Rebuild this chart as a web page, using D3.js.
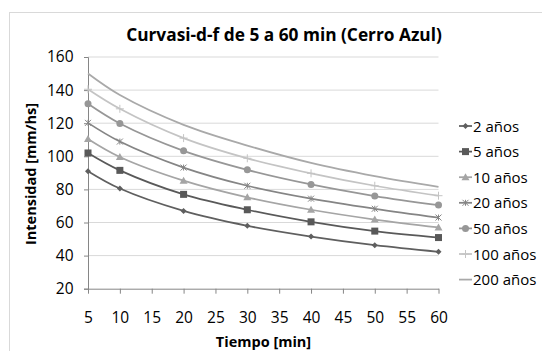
<!DOCTYPE html>
<html>
<head>
<meta charset="utf-8">
<script src="https://cdn.jsdelivr.net/npm/d3@7"></script>
<style>
  body { margin: 0; background: #fff; }
  svg { display: block; font-family: "Open Sans", sans-serif; }
</style>
</head>
<body>
<div id="chart"></div>
<script>
// duration (min) at each point
const tiempos = [5, 10, 20, 30, 40, 50, 60];
const xTicks = [5, 10, 15, 20, 25, 30, 35, 40, 45, 50, 55, 60];
const yTicks = [20, 40, 60, 80, 100, 120, 140, 160];

// intensity per return period
const serie2 = [91, 80.5, 67, 58, 51.5, 46.3, 42.3];
const serie5 = [102, 91.5, 77, 67.7, 60.4, 54.8, 50.9];
const serie10 = [110.5, 99.6, 85.3, 75.2, 67.7, 61.8, 57];
const serie20 = [120.2, 108.9, 93.2, 82.2, 74.4, 68.3, 63];
const serie50 = [131.7, 119.8, 103.3, 91.8, 83, 76, 70.5];
const serie100 = [140.5, 128.7, 111, 98.8, 89.7, 82.2, 76.2];
const serie200 = [150, 137, 119, 106.5, 96, 88, 81.5];

const series = [
    { name: "2 años", values: serie2, color: "#5f5f5f", marker: "diamond" },
    { name: "5 años", values: serie5, color: "#595959", marker: "square" },
    { name: "10 años", values: serie10, color: "#a5a5a5", marker: "triangle" },
    { name: "20 años", values: serie20, color: "#858585", marker: "cross" },
    { name: "50 años", values: serie50, color: "#979797", marker: "circle" },
    { name: "100 años", values: serie100, color: "#c4c4c4", marker: "plus" },
    { name: "200 años", values: serie200, color: "#a9a9a9", marker: "none" }
];

const W = 542, H = 351;
const plot = { left: 88, right: 438.5, top: 57, bottom: 288.7 };

const svg = d3.select("#chart").append("svg")
    .attr("width", W)
    .attr("height", H);

// chart border
svg.append("rect")
    .attr("x", 9.5).attr("y", 12.5)
    .attr("width", W).attr("height", H)
    .attr("fill", "none")
    .attr("stroke", "#d9d9d9");

const x = d3.scaleLinear().domain([5, 60]).range([plot.left, plot.right]);
const y = d3.scaleLinear().domain([20, 160]).range([plot.bottom, plot.top]);

// gridlines
svg.append("g").selectAll("line")
    .data(yTicks.slice(1))
    .join("line")
    .attr("x1", plot.left).attr("x2", plot.right)
    .attr("y1", d => y(d)).attr("y2", d => y(d))
    .attr("stroke", "#d9d9d9");

// y axis
const yAxis = svg.append("g")
    .attr("transform", `translate(${plot.left},0)`)
    .call(d3.axisLeft(y).tickValues(yTicks).tickSize(4).tickPadding(10.5));
yAxis.select(".domain").attr("stroke", "#868686");
yAxis.selectAll(".tick line").attr("stroke", "#868686");
yAxis.selectAll("text")
    .attr("font-family", "Open Sans, sans-serif")
    .attr("font-size", 15.5)
    .attr("fill", "#000");

// x axis
const xAxis = svg.append("g")
    .attr("transform", `translate(0,${plot.bottom})`)
    .call(d3.axisBottom(x).tickValues(xTicks).tickSize(5).tickSizeOuter(0).tickPadding(18));
xAxis.select(".domain").attr("stroke", "#868686");
xAxis.selectAll(".tick line").attr("stroke", "#868686");
xAxis.selectAll("text")
    .attr("font-family", "Open Sans, sans-serif")
    .attr("font-size", 15.5)
    .attr("fill", "#000");

const line = d3.line()
    .x((d, i) => x(tiempos[i]))
    .y(d => y(d))
    .curve(d3.curveCatmullRom.alpha(0.5));

function drawMarker(g, type, color, cx, cy) {
    if (type === "diamond") {
        g.append("path")
            .attr("d", `M${cx},${cy - 3}L${cx + 3},${cy}L${cx},${cy + 3}L${cx - 3},${cy}Z`)
            .attr("fill", color);
    } else if (type === "square") {
        g.append("rect")
            .attr("x", cx - 3.5).attr("y", cy - 3.5)
            .attr("width", 7).attr("height", 7)
            .attr("fill", color);
    } else if (type === "triangle") {
        g.append("path")
            .attr("d", `M${cx},${cy - 4}L${cx + 4},${cy + 3}L${cx - 4},${cy + 3}Z`)
            .attr("fill", color);
    } else if (type === "cross") {
        g.append("path")
            .attr("d", `M${cx - 3},${cy - 3}L${cx + 3},${cy + 3}M${cx - 3},${cy + 3}L${cx + 3},${cy - 3}M${cx},${cy - 3}L${cx},${cy + 3}`)
            .attr("stroke", color).attr("stroke-width", 1);
    } else if (type === "circle") {
        g.append("circle")
            .attr("cx", cx).attr("cy", cy).attr("r", 3.5)
            .attr("fill", color);
    } else if (type === "plus") {
        g.append("path")
            .attr("d", `M${cx - 4},${cy}L${cx + 4},${cy}M${cx},${cy - 4}L${cx},${cy + 4}`)
            .attr("stroke", color).attr("stroke-width", 1);
    }
}

// lines, top series drawn first
series.slice().reverse().forEach(s => {
    svg.append("path")
        .datum(s.values)
        .attr("fill", "none")
        .attr("stroke", s.color)
        .attr("stroke-width", 1.75)
        .attr("d", line);
    const g = svg.append("g");
    s.values.forEach((v, i) => drawMarker(g, s.marker, s.color, x(tiempos[i]), y(v)));
});

// legend
const legend = svg.append("g");
series.forEach((s, i) => {
    const ly = 126 + i * 25.6;
    const lg = legend.append("g");
    lg.append("line")
        .attr("x1", 459).attr("x2", 472)
        .attr("y1", ly).attr("y2", ly)
        .attr("stroke", s.color).attr("stroke-width", 1.75);
    drawMarker(lg, s.marker, s.color, 465.5, ly);
    lg.append("text")
        .attr("x", 473)
        .attr("y", ly + 5.5)
        .attr("font-size", 15)
        .attr("fill", "#000")
        .text(s.name);
});

// title
svg.append("text")
    .attr("x", 284).attr("y", 41)
    .attr("text-anchor", "middle")
    .attr("font-size", 17.3)
    .attr("font-weight", "bold")
    .text("Curvasi-d-f de 5 a 60 min (Cerro Azul)");

// axis titles
svg.append("text")
    .attr("transform", "translate(35.5,174) rotate(-90)")
    .attr("text-anchor", "middle")
    .attr("font-size", 14.5)
    .attr("font-weight", "bold")
    .text("Intensidad [mm/hs]");

svg.append("text")
    .attr("x", 263.5).attr("y", 347)
    .attr("text-anchor", "middle")
    .attr("font-size", 14.5)
    .attr("font-weight", "bold")
    .text("Tiempo [min]");
</script>
</body>
</html>
